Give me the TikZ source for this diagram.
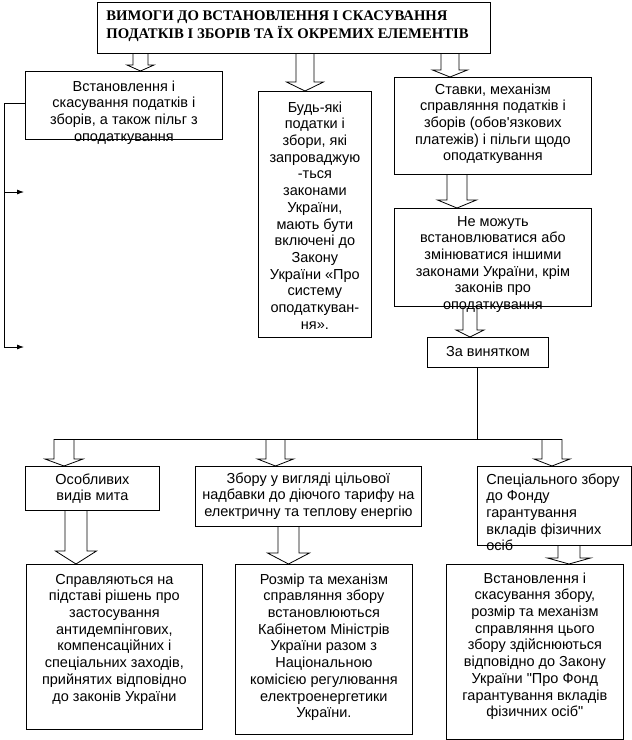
\documentclass[tikz,border=0pt]{standalone}
\usepackage{fontspec}
\setmainfont{Liberation Sans}
\newfontfamily\titlefont{Liberation Serif}
\usetikzlibrary{calc,arrows.meta}
\newcommand\boxtext[5]{\parbox[c][#2pt][t]{#1pt}{\vspace*{#3pt}#4\strut #5\par}}
\newcommand\harrow[6]{%
  \draw[conn] let \p1=#1, \p2=#2 in
    (#3pt-#4pt,\y1) -- (#3pt-#4pt,\y2+#6pt) -- (#3pt-#5pt,\y2+#6pt) -- (#3pt,\y2)
    -- (#3pt+#5pt,\y2+#6pt) -- (#3pt+#4pt,\y2+#6pt) -- (#3pt+#4pt,\y1);}
\tikzset{
  box/.style={draw, line width=0.8pt, inner sep=0pt, anchor=north west,
    font=\fontsize{14.5}{16.7}\selectfont},
  titlebox/.style={draw, line width=0.8pt, inner sep=0pt, anchor=north west,
    font=\titlefont\bfseries\fontsize{14.7}{17}\selectfont},
  conn/.style={line width=0.8pt},
  tip/.style={conn, -{Latex[length=7pt,width=5pt]}}
}
\begin{document}
\begin{tikzpicture}[x=1pt,y=-1pt]
\useasboundingbox (0,0) rectangle (632,740);

\node[titlebox] (title) at (97,2) {\boxtext{393}{51}{6.1}{\raggedright\leftskip=9pt}{ВИМОГИ ДО ВСТАНОВЛЕННЯ І СКАСУВАННЯ\\ПОДАТКІВ І ЗБОРІВ ТА ЇХ ОКРЕМИХ ЕЛЕМЕНТІВ}};

\node[box] (b1) at (25,71) {\boxtext{197}{68}{8.1}{\centering}{Встановлення і\\скасування податків і\\зборів, а також пільг з\\оподаткування}};

\node[box] (b2) at (258,91) {\boxtext{113}{246}{9.1}{\centering}{Будь-які\\податки і\\збори, які\\запроваджую\\-ться\\законами\\України,\\мають бути\\включені до\\Закону\\України «Про\\систему\\оподаткуван-\\ня».}};

\node[box] (b3) at (394,77) {\boxtext{197}{97}{5.1}{\centering}{Ставки, механізм\\справляння податків і\\зборів (обов\textquotesingle{}язкових\\платежів) і пільги щодо\\оподаткування}};

\node[box] (b4) at (394,208) {\boxtext{197}{98}{6.1}{\centering}{Не можуть\\встановлюватися або\\змінюватися іншими\\законами України, крім\\законів про\\оподаткування}};

\node[box] (b5) at (427,337) {\boxtext{121}{30}{7.1}{\centering}{За винятком}};

\node[box] (bA) at (25,466) {\boxtext{134}{44}{6.1}{\centering}{Особливих\\видів мита}};

\node[box] (bB) at (195,466) {\boxtext{226}{60}{5.1}{\centering}{Збору у вигляді цільової\\надбавки до діючого тарифу на\\електричну та теплову енергію}};

\node[box] (bC) at (477,466) {\boxtext{154}{79}{6.1}{\raggedright\leftskip=9pt}{Спеціального збору\\до Фонду\\гарантування\\вкладів фізичних\\осіб}};

\node[box] (bD) at (26,564) {\boxtext{176}{165}{8.1}{\centering}{Справляються на\\підставі рішень про\\застосування\\антидемпінгових,\\компенсаційних і\\спеціальних заходів,\\прийнятих відповідно\\до законів України}};

\node[box] (bE) at (235,564) {\boxtext{177}{170}{8.1}{\centering}{Розмір та механізм\\справляння збору\\встановлюються\\Кабінетом Міністрів\\України разом з\\Національною\\комісією регулювання\\електроенергетики\\України.}};

\node[box] (bF) at (446,564) {\boxtext{177}{175}{7.1}{\centering}{Встановлення і\\скасування збору,\\розмір та механізм\\справляння цього\\збору здійснюються\\відповідно до Закону\\України \textquotedbl{}Про Фонд\\гарантування вкладів\\фізичних осіб\textquotedbl}};

% hollow block arrows
\harrow{(title.south)}{(b1.north)}{140.5}{7.5}{13.5}{6}
\harrow{(title.south)}{(b2.north)}{305}{9}{18.5}{9}
\harrow{(title.south)}{(b3.north)}{450}{9}{17.5}{7}
\harrow{(b3.south)}{(b4.north)}{457}{10}{19.5}{8}
\harrow{(b4.south)}{(b5.north)}{470}{7}{14}{7}

% bus from "За винятком"
\coordinate (bus) at (477,439);
\coordinate (busL) at (54,439);
\coordinate (busR) at (562,439);
\draw[conn] (b5.south -| bus) -- (bus);
\draw[conn] (busL) -- (busR);
\harrow{(bus)}{(bA.north)}{64}{10}{19}{7}
\harrow{(bus)}{(bB.north)}{275.5}{9.5}{18}{7}
\harrow{(bus)}{(bC.north)}{552}{10}{18}{7}

\harrow{(bA.south)}{(bD.north)}{76}{11}{20.5}{13}
\harrow{(bB.south)}{(bE.north)}{288.5}{10.5}{21}{11}
\harrow{(bC.south)}{(bF.north)}{569}{11}{21.5}{6}

% left bracket
\coordinate (lbot) at (4,347);
\coordinate (lt1) at (24,192);
\coordinate (lt2) at (24,347);
\draw[conn] ([yshift=2pt]b1.west) -| (lbot);
\draw[tip] (lbot |- lt1) -- (lt1);
\draw[tip] (lbot) -- (lt2);
\end{tikzpicture}
\end{document}
